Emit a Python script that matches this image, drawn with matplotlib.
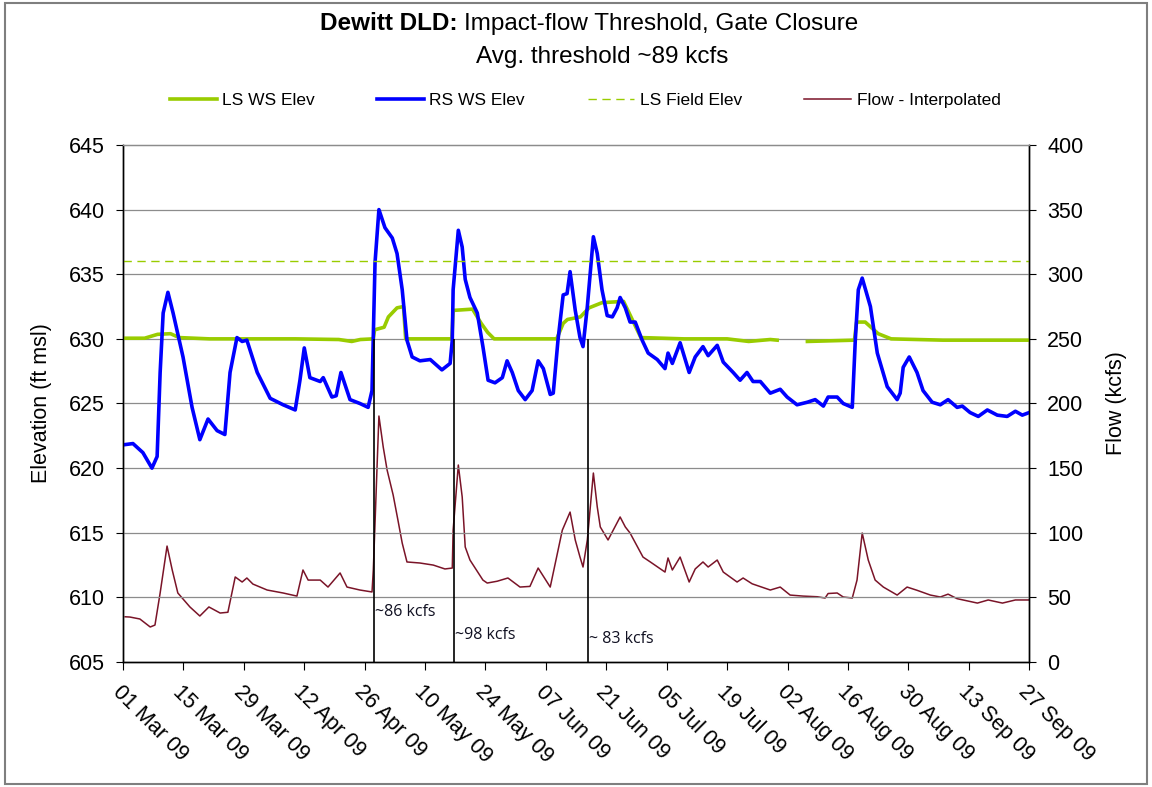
import numpy as np
import matplotlib
matplotlib.use('Agg')
import matplotlib.pyplot as plt
import matplotlib.dates as mdates
from matplotlib.patches import Rectangle
from datetime import datetime

plt.rcParams['font.family'] = ['Liberation Sans', 'DejaVu Sans']

# days after 01 Mar 2009
rs_day = [0, 2.3, 4.6, 6.7, 7.9, 8.6, 9.3, 10.4, 11.6, 13.9, 16, 17.8, 19.7, 21.8, 23.6, 24.8,
          26.4, 27.6, 28.7, 31.1, 34.1, 37.1, 39.9, 41, 42, 43.3, 45.7, 46.4, 48.4, 49.4, 50.5,
          52.6, 54.9, 56.8, 57.7, 58.4, 59.3, 60.7, 62.4, 63.5, 64.7, 65.8, 67, 68.8, 71.2, 73.9,
          75.8, 76.3, 76.5, 77.7, 78.6, 79.3, 80.4, 82.1, 83.4, 84.6, 86.2, 87.9, 89, 90.2, 91.6,
          93.2, 94.8, 96.2, 97.4, 99, 99.7, 100.8, 102, 102.9, 103.6, 104.8, 105.9, 106.6, 107.6,
          109, 109.9, 111, 112.2, 113.4, 114.5, 115.2, 116.4, 117.5, 118.7, 120.3, 121.7, 123.8,
          125.6, 126.3, 127.3, 129.1, 131.2, 132.6, 134.4, 135.6, 137.7, 139.1, 141.4, 143, 144.6,
          146, 147.7, 150, 152.3, 153.9, 156.2, 158.6, 160.4, 162.3, 163.4, 165.5, 166.9, 169,
          169.7, 170.4, 171.3, 173.2, 174.8, 177.1, 179.4, 180.1, 180.8, 182.2, 184, 185.4, 187.5,
          189.4, 191.2, 193.3, 194.5, 196.3, 198.2, 200.3, 202.6, 204.9, 206.8, 208.4, 210]
rs_elev = [621.8, 621.9, 621.2, 620.0, 620.9, 627.4, 632.0, 633.6, 632.0, 628.6, 624.7, 622.2,
           623.8, 622.9, 622.6, 627.4, 630.1, 629.8, 629.9, 627.4, 625.4, 624.9, 624.5, 626.8,
           629.3, 627.0, 626.7, 627.0, 625.5, 625.6, 627.4, 625.3, 625.0, 624.7, 626.0, 635.9,
           640.0, 638.6, 637.8, 636.6, 633.8, 629.9, 628.6, 628.3, 628.4, 627.6, 628.1, 629.9,
           633.8, 638.4, 637.1, 634.6, 633.2, 632.0, 629.4, 626.8, 626.6, 627.0, 628.3, 627.4,
           626.0, 625.3, 626.0, 628.3, 627.7, 625.7, 625.8, 629.9, 633.4, 633.5, 635.2, 632.2,
           630.1, 629.4, 632.5, 637.9, 636.6, 633.8, 631.8, 631.7, 632.4, 633.2, 632.4, 631.3,
           631.3, 629.9, 628.9, 628.4, 627.7, 628.9, 628.1, 629.7, 627.4, 628.6, 629.4, 628.7,
           629.5, 628.2, 627.4, 626.8, 627.4, 626.7, 626.7, 625.8, 626.1, 625.5, 624.9, 625.1,
           625.3, 624.8, 625.5, 625.5, 625.0, 624.7, 629.9, 633.8, 634.7, 632.5, 628.9, 626.3,
           625.3, 625.8, 627.8, 628.6, 627.4, 626.0, 625.1, 624.9, 625.3, 624.7, 624.8, 624.3,
           624.0, 624.5, 624.1, 624.0, 624.4, 624.1, 624.3]

ls_day = [0, 5, 8, 11, 13, 20, 30, 40, 50, 53, 55, 58, 58.3, 60.5, 61.5, 63.5, 65, 65.5, 70,
          76.2, 76.5, 81, 83, 84.5, 86, 95, 100.5, 102, 103, 106, 108, 111, 116, 118, 120, 130,
          140, 145, 150, 151.6, 155, 158.6, 169.5, 170, 172, 175, 178, 190, 210]
ls_elev = [630.05, 630.05, 630.35, 630.4, 630.1, 630.0, 630.0, 630.0, 629.95, 629.8, 629.95,
           630.0, 630.7, 630.9, 631.7, 632.4, 632.5, 630.0, 630.0, 630.0, 632.2, 632.3, 631.2,
           630.5, 630.0, 630.0, 630.0, 631.2, 631.5, 631.7, 632.4, 632.8, 632.9, 631.5, 630.1,
           630.0, 630.0, 629.8, 629.95, 629.9, np.nan, 629.8, 629.9, 631.3, 631.3, 630.4, 630.0,
           629.9, 629.9]

field_elev = 636.0

flow_day = [0.5, 1.6, 3.9, 6.3, 7.4, 8.6, 10.2, 11.4, 12.7, 15.5, 17.8, 19.9, 22.5, 24.3, 26,
            27.6, 28.7, 30.1, 33.4, 37.1, 40.3, 41.7, 42.9, 45.7, 47.5, 50.3, 51.9, 54.9, 57.7,
            58, 58.4, 58.9, 59.3, 60.3, 61.2, 62.6, 63.7, 64.7, 65.8, 68.8, 71.9, 74.6, 76.3,
            76.5, 77.7, 78.6, 79.3, 80.4, 83.4, 84.4, 86.7, 89.2, 92, 94.3, 96.2, 99, 101.8,
            103.6, 104.8, 105.9, 106.6, 107.6, 109, 109.9, 110.6, 112.4, 115.2, 116.4, 117.5,
            120.5, 122.2, 125.6, 126.3, 127.3, 129.1, 131.2, 132.6, 134.4, 135.6, 137.7, 139.1,
            142.3, 143.7, 145.8, 150, 152.3, 154.6, 157.6, 160.9, 162.7, 163.4, 165.5, 166.9,
            169, 170.1, 171.3, 172.7, 174.3, 176.2, 179.4, 181.7, 184, 187.1, 189.4, 191.2,
            193.3, 198, 200.5, 203.8, 206.8, 210]
flow_kcfs = [35, 34.8, 33.3, 27.1, 28.6, 53.4, 89.7, 71.2, 53.4, 42.6, 35.6, 42.6, 37.9, 38.5,
             65.8, 61.9, 65.0, 60.3, 55.7, 53.4, 51.0, 71.2, 63.4, 63.4, 58.0, 68.9, 58.0, 55.7,
             54.2, 71.2, 107.5, 154.0, 190.3, 166.3, 148.5, 129.2, 109.9, 92.0, 77.4, 76.6, 75.0,
             72.0, 72.7, 102.0, 152.4, 127.7, 89.0, 78.9, 63.4, 61.1, 62.5, 65.0, 58.0, 58.5,
             72.7, 58.0, 102.0, 116.0, 94.4, 81.2, 73.5, 94.4, 146.2, 120.0, 104.5, 94.4, 112.2,
             104.5, 99.8, 81.2, 77.4, 69.6, 80.5, 71.2, 81.2, 61.9, 72.0, 77.4, 73.5, 78.9, 69.6,
             61.9, 65.0, 60.5, 55.7, 58.0, 51.8, 51.0, 50.5, 49.5, 53.0, 53.4, 50.3, 49.5, 63.4,
             99.8, 78.9, 63.4, 58.0, 51.8, 58.0, 55.5, 51.8, 50.3, 52.5, 49.0, 45.6, 48.0, 45.6,
             48.0, 48.0]

# gate closure markers
closure_day = [58.2, 76.6, 107.8]
closure_label = ['~86 kcfs', '~98 kcfs', '~ 83 kcfs']
closure_label_y = [609.5, 607.7, 607.4]

start = mdates.date2num(datetime(2009, 3, 1))
tick_days = np.arange(0, 211, 14)


def to_num(days):
    return start + np.asarray(days, dtype=float)


fig = plt.figure(figsize=(11.52, 7.87), dpi=100)
ax = fig.add_axes([0.1068, 0.1588, 0.7866, 0.657])
ax2 = ax.twinx()

ax.set_zorder(ax2.get_zorder() + 1)
ax.patch.set_visible(False)

for v in range(610, 645, 5):
    ax.axhline(v, color='#8c8c8c', lw=0.9, zorder=0)

l1, = ax.plot(to_num(ls_day), ls_elev, color='#99CC00', lw=2.6, label='LS WS Elev')
l2, = ax.plot(to_num(rs_day), rs_elev, color='#0000FF', lw=2.6, label='RS WS Elev')
l3, = ax.plot(to_num([0, 210]), [field_elev, field_elev], color='#99CC00', lw=1.0,
              ls=(0, (6, 4)), label='LS Field Elev')
l4, = ax2.plot(to_num(flow_day), flow_kcfs, color='#7a1428', lw=1.1, label='Flow - Interpolated')

ax.vlines(to_num(closure_day), 605, 630, color='black', lw=1.2)
for d, lab, yy in zip(closure_day, closure_label, closure_label_y):
    ax.text(to_num([d])[0] + 0.3, yy, lab, fontsize=11.5, family=['Open Sans', 'DejaVu Sans'],
            color='#111122', ha='left', va='top')

ax.set_xlim(start, start + 210)
ax.set_ylim(605, 645)
ax.set_yticks(np.arange(605, 646, 5))
ax2.set_ylim(0, 400)
ax2.set_yticks(np.arange(0, 401, 50))

ax.set_xticks(to_num(tick_days))
ax.xaxis.set_major_formatter(mdates.DateFormatter('%d %b %y'))
for lab in ax.get_xticklabels():
    lab.set_rotation(-45)
    lab.set_ha('left')
    lab.set_va('top')
    lab.set_rotation_mode('anchor')
ax.tick_params(axis='x', labelsize=15.5, length=6, direction='out', pad=8)
ax.tick_params(axis='y', labelsize=15.5, length=5, direction='out', pad=8)
ax2.tick_params(axis='y', labelsize=15.5, length=5, direction='out', pad=8)

ax.set_ylabel('Elevation (ft msl)', fontsize=15.5, labelpad=12)
ax2.set_ylabel('Flow (kcfs)', fontsize=15.5, labelpad=16)

for a in (ax, ax2):
    a.spines['top'].set_color('#8c8c8c')
    a.spines['top'].set_linewidth(0.9)
    for s in ('left', 'right', 'bottom'):
        a.spines[s].set_color('black')
        a.spines[s].set_linewidth(1.0)

fig.text(458 / 1152, 0.97, 'Dewitt DLD:', ha='right', va='center', fontsize=17.5,
         fontweight='bold')
fig.text(464 / 1152, 0.97, 'Impact-flow Threshold, Gate Closure', ha='left', va='center',
         fontsize=17.5)
fig.text(0.523, 0.927, 'Avg. threshold ~89 kcfs', ha='center', va='center', fontsize=17.5)

fig.legend(handles=[l1, l2, l3, l4], loc='center', bbox_to_anchor=(0.508, 0.872), ncol=4,
           frameon=False, fontsize=12.5, handlelength=2.7, handletextpad=0.3, columnspacing=3.6)

fig.patches.append(Rectangle((0.004, 0.004), 0.992, 0.992, transform=fig.transFigure,
                             fill=False, edgecolor='#7f7f7f', lw=1.5))

fig.savefig('out.png', dpi=100)
